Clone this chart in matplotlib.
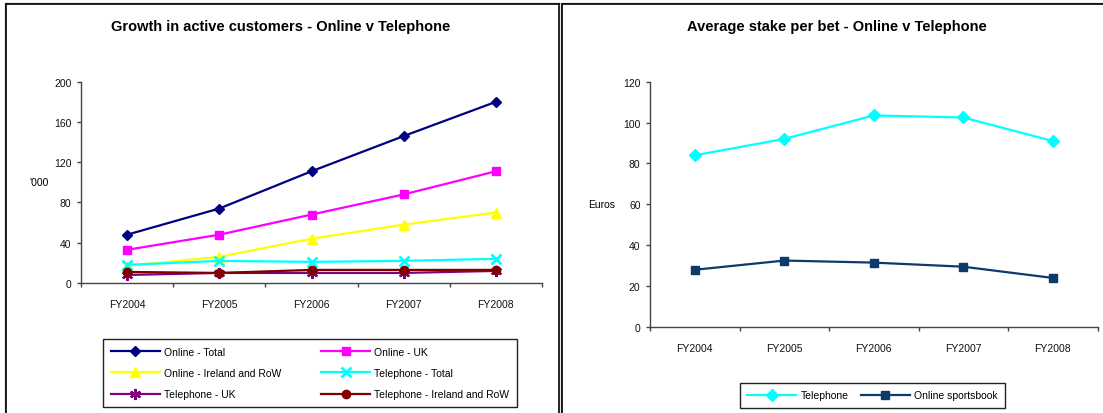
import matplotlib
matplotlib.use("Agg")
import matplotlib.pyplot as plt
from matplotlib.lines import Line2D

plt.rcParams['font.family'] = ['Liberation Sans', 'DejaVu Sans']

# ---- data ----
years = ['FY2004', 'FY2005', 'FY2006', 'FY2007', 'FY2008']

online_total = [48, 74, 111, 146, 180]
online_uk = [33, 48, 68, 88, 111]
online_irl_row = [17, 26, 44, 58, 70]
tel_total = [18, 22, 21, 22, 24]
tel_uk = [8, 10, 10, 10, 12]
tel_irl_row = [11, 10, 13, 13, 13]

stake_telephone = [84, 92, 103.5, 102.5, 91]
stake_online = [28, 32.5, 31.5, 29.5, 24]

customer_series = [
    ('Online - Total', online_total, '#000080', 'D', 5.5, 1.0),
    ('Online - UK', online_uk, '#FF00FF', 's', 5.5, 1.0),
    ('Online - Ireland and RoW', online_irl_row, '#FFFF00', '^', 7, 1.0),
    ('Telephone - Total', tel_total, '#00FFFF', 'x', 7, 2.0),
    ('Telephone - UK', tel_uk, '#800080', (6, 2, 0), 8, 1.6),
    ('Telephone - Ireland and RoW', tel_irl_row, '#800000', 'o', 6, 1.0),
]

stake_series = [
    ('Telephone', stake_telephone, '#00FFFF', 'D', 6),
    ('Online sportsbook', stake_online, '#0B3A6B', 's', 6),
]

W, H = 1103, 414
fig = plt.figure(figsize=(W / 100, H / 100), dpi=100)


def fx(px):
    return px / W


def fy(py):
    return 1 - py / H


def style_axes(ax, ymax, ystep):
    n = len(years)
    ax.set_xlim(-0.5, n - 0.5)
    ax.set_ylim(0, ymax)
    ax.set_yticks(range(0, ymax + 1, ystep))
    for s in ('top', 'right'):
        ax.spines[s].set_visible(False)
    for s in ('left', 'bottom'):
        ax.spines[s].set_color('#444444')
        ax.spines[s].set_linewidth(1.0)
    # category boundaries carry the tick marks, centres carry the labels
    ax.set_xticks([i - 0.5 for i in range(n + 1)])
    ax.set_xticklabels([])
    ax.set_xticks(range(n), minor=True)
    ax.set_xticklabels(years, minor=True)
    ax.tick_params(axis='x', which='major', direction='out', length=3,
                   width=1, color='#444444')
    ax.tick_params(axis='x', which='minor', length=0, pad=11.5,
                   labelsize=7.5, labelcolor='#111111')
    ax.tick_params(axis='y', direction='out', length=3, width=1,
                   color='#444444', pad=3.8, labelsize=7.5,
                   labelcolor='#111111')


# ---- left chart: active customers ----
ax1 = fig.add_axes([fx(81), fy(284), fx(542 - 81), (284 - 82.7) / H])
x = range(len(years))
for label, vals, color, mk, ms, mew in customer_series:
    ax1.plot(x, vals, color=color, lw=1.6, marker=mk, ms=ms,
             markeredgecolor=color, markerfacecolor=color,
             markeredgewidth=mew, label=label, clip_on=False)
style_axes(ax1, 200, 40)

fig.text(fx(281), fy(27.5), 'Growth in active customers - Online v Telephone',
         ha='center', va='center', fontsize=10.5, fontweight='bold')
fig.text(fx(49), fy(183), "'000", ha='right', va='center', fontsize=7.5)

# legend filled row by row: reorder for matplotlib's column-major layout
h1, l1 = ax1.get_legend_handles_labels()
order = [0, 2, 4, 1, 3, 5]
leg1 = fig.legend([h1[i] for i in order], [l1[i] for i in order],
                  ncol=2, loc='center',
                  bbox_to_anchor=(fx(103), fy(409), fx(517 - 103), (409 - 339) / H),
                  mode='expand', fontsize=7.5, frameon=True, fancybox=False,
                  edgecolor='#222222', framealpha=1, handlelength=4.7,
                  handletextpad=0.4, labelspacing=1.1, borderpad=0.75,
                  borderaxespad=0)
leg1.get_frame().set_linewidth(1.0)

# ---- right chart: average stake ----
ax2 = fig.add_axes([fx(650), fy(328), fx(1097.5 - 650), (328 - 82.7) / H])
for label, vals, color, mk, ms in stake_series:
    ax2.plot(x, vals, color=color, lw=1.6, marker=mk, ms=ms,
             markeredgecolor=color, markerfacecolor=color,
             label=label, clip_on=False)
style_axes(ax2, 120, 20)

fig.text(fx(837), fy(27.5), 'Average stake per bet - Online v Telephone',
         ha='center', va='center', fontsize=10.5, fontweight='bold')
fig.text(fx(602), fy(205), 'Euros', ha='center', va='center', fontsize=7.5)

h2, l2 = ax2.get_legend_handles_labels()
leg2 = fig.legend(h2, l2, ncol=2, loc='center',
                  bbox_to_anchor=(fx(872.5), fy(396.5)),
                  fontsize=7.5, frameon=True, fancybox=False,
                  edgecolor='#222222', framealpha=1, handlelength=4.7,
                  handletextpad=0.4, columnspacing=1.2, borderpad=0.7,
                  borderaxespad=0)
leg2.get_frame().set_linewidth(1.0)

# ---- panel frames ----
def frame_line(xs, ys, color, lw):
    fig.add_artist(Line2D([fx(v) for v in xs], [fy(v) for v in ys],
                          transform=fig.transFigure, color=color, lw=lw,
                          solid_capstyle='butt'))

# left panel
frame_line([5, 560], [3.5, 3.5], '#9a9a9a', 1.0)
frame_line([5, 560], [4.8, 4.8], 'black', 1.2)
frame_line([4.5, 4.5], [4, 420], '#9a9a9a', 1.0)
frame_line([5.8, 5.8], [4, 420], 'black', 1.2)
frame_line([559.3, 559.3], [4, 420], 'black', 1.2)
frame_line([560.6, 560.6], [4, 420], '#9a9a9a', 1.0)
# right panel
frame_line([562, 1110], [3.5, 3.5], '#9a9a9a', 1.0)
frame_line([562, 1110], [4.8, 4.8], 'black', 1.2)
frame_line([562.3, 562.3], [4, 420], 'black', 1.2)

fig.savefig('out.png', dpi=100)
